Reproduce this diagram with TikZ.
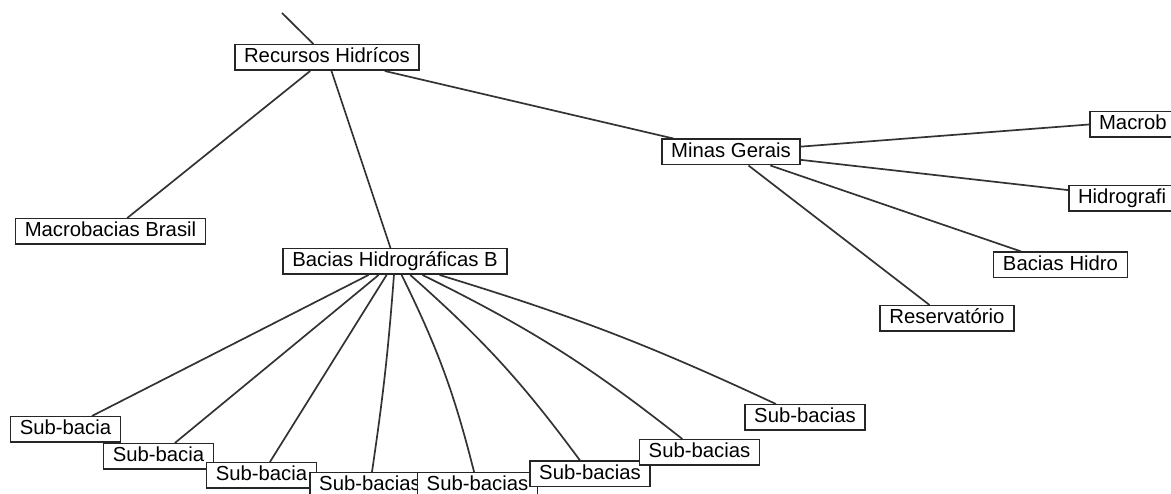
\documentclass[tikz,border=0pt]{standalone}
\usepackage{fontspec}
\setmainfont{Liberation Sans}
\pgfdeclarelayer{paper}
\pgfdeclarelayer{links}
\pgfsetlayers{paper,links,main}
\tikzset{
  term/.style={draw=black!85, line width=1.5pt, fill=white,
    inner xsep=9.3pt, inner ysep=3.35pt, text height=14.5pt, text depth=4.3pt,
    font=\fontsize{20.3}{24}\selectfont},
  cut/.style={term, anchor=west, text width=140pt, align=left},
  link/.style={draw=black!80, line width=1.7pt},
}
\begin{document}
\begin{tikzpicture}[x=1pt,y=1pt]
\useasboundingbox (0,0) rectangle (1171,494);
\begin{pgfonlayer}{paper}
  \fill[white] (0,0) rectangle (1171,494);
\end{pgfonlayer}
\clip (0,0) rectangle (1171,494);

% upper part of the tree
\coordinate (up) at (282,481);
\node[term] (rh) at (327,436.5) {Recursos Hidrícos};
\node[term] (mb) at (110.5,262.5) {Macrobacias Brasil};
\node[term] (bhb) at (395,232.5) {Bacias Hidrográficas B};

% Minas Gerais branch
\node[term] (mg) at (731,342) {Minas Gerais};
\node[cut] (mgmacro) at (1089,369.5) {Macrob};
\node[cut] (mghidro) at (1068,295.5) {Hidrografi};
\node[term] (mgbh) at (1060.5,229) {Bacias Hidro};
\node[term] (mgres) at (947,175.5) {Reservatório};

% sub-basins, drawn left to right so each overlaps the previous one
\node[term] (s1) at (65.5,64.5) {Sub-bacia};
\node[term] (s2) at (158.5,37.5) {Sub-bacia};
\node[term] (s3) at (261.5,18.5) {Sub-bacia};
\node[term] (s4) at (370,8.5) {Sub-bacias};
\node[term] (s5) at (477.5,8.5) {Sub-bacias};
\node[term] (s6) at (590,20) {Sub-bacias};
\node[term] (s7) at (699.5,41.5) {Sub-bacias};
\node[term] (s8) at (805,76.5) {Sub-bacias};

\begin{pgfonlayer}{links}
  \draw[link] (up) -- (rh);
  \draw[link] (rh) -- (mb);
  \draw[link] (rh) -- (bhb);
  \draw[link] (rh) -- (mg);
  \draw[link] (mg) -- (mgmacro.west);
  \draw[link] (mg) -- (mghidro.174);
  \draw[link] (mg) -- (mgbh);
  \draw[link] (mg) -- (mgres);
  \draw[link] (bhb) -- (s1);
  \draw[link] (bhb) -- (s2);
  \draw[link] (bhb) -- (s3);
  \draw[link] (bhb) to[bend left=2] (s4);
  \draw[link] (bhb) to[bend left=6] (s5);
  \draw[link] (bhb) to[bend left=6] (s6);
  \draw[link] (bhb) to[bend left=6] (s7);
  \draw[link] (bhb) to[bend left=4] (s8);
\end{pgfonlayer}
\end{tikzpicture}
\end{document}
